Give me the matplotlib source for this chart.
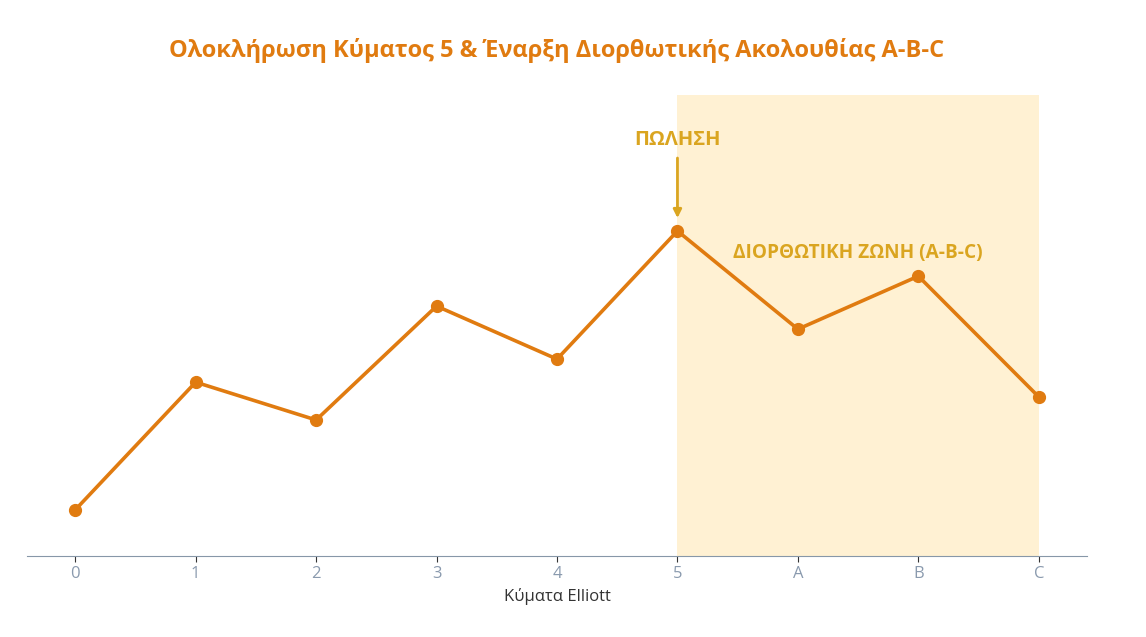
import matplotlib.pyplot as plt

plt.rcParams['font.family'] = ['Open Sans', 'DejaVu Sans']

# Elliott waves: impulse 0-5, correction A-B-C
waves = ['0', '1', '2', '3', '4', '5', 'A', 'B', 'C']
prices = [10, 37.7, 29.5, 54.2, 42.7, 70.5, 49.2, 60.7, 34.5]

orange = '#e07b10'
gold = '#daa520'

fig = plt.figure(figsize=(11.46, 6.37), dpi=100)
ax = fig.add_axes([0.0236, 0.1272, 0.9249, 0.7237])

x = list(range(len(waves)))
# corrective zone shading
ax.axvspan(5, 8, color='#fff1d3', zorder=0, lw=0)
ax.plot(x, prices, color=orange, lw=2.6, marker='o', markersize=8.5, zorder=3)

ax.annotate('ΠΩΛΗΣΗ', xy=(5, 73.3), xytext=(5, 90.3), ha='center', va='center',
            fontsize=14.5, fontweight='bold', color=gold,
            arrowprops=dict(arrowstyle='-|>', color=gold, lw=2, mutation_scale=12,
                            shrinkA=4, shrinkB=0))
ax.text(6.5, 65.8, 'ΔΙΟΡΘΩΤΙΚΗ ΖΩΝΗ (A-B-C)', ha='center', va='center',
        fontsize=13.7, fontweight='bold', color=gold)

ax.set_xlim(-0.4, 8.4)
ax.set_ylim(0, 100)
ax.set_xticks(x)
ax.set_xticklabels(waves)
ax.set_yticks([])
for s in ['top', 'right', 'left']:
    ax.spines[s].set_visible(False)
ax.spines['bottom'].set_color('#8797a8')
ax.tick_params(axis='x', colors='#333333', labelcolor='#8a9aae', labelsize=12, length=4)
ax.set_xlabel('Κύματα Elliott', fontsize=12, color='#333333', labelpad=4)

fig.suptitle('Ολοκλήρωση Κύματος 5 & Έναρξη Διορθωτικής Ακολουθίας A-B-C',
             x=0.486, y=0.94, fontsize=17, fontweight='bold', color=orange)

plt.savefig('out.png', dpi=100)
